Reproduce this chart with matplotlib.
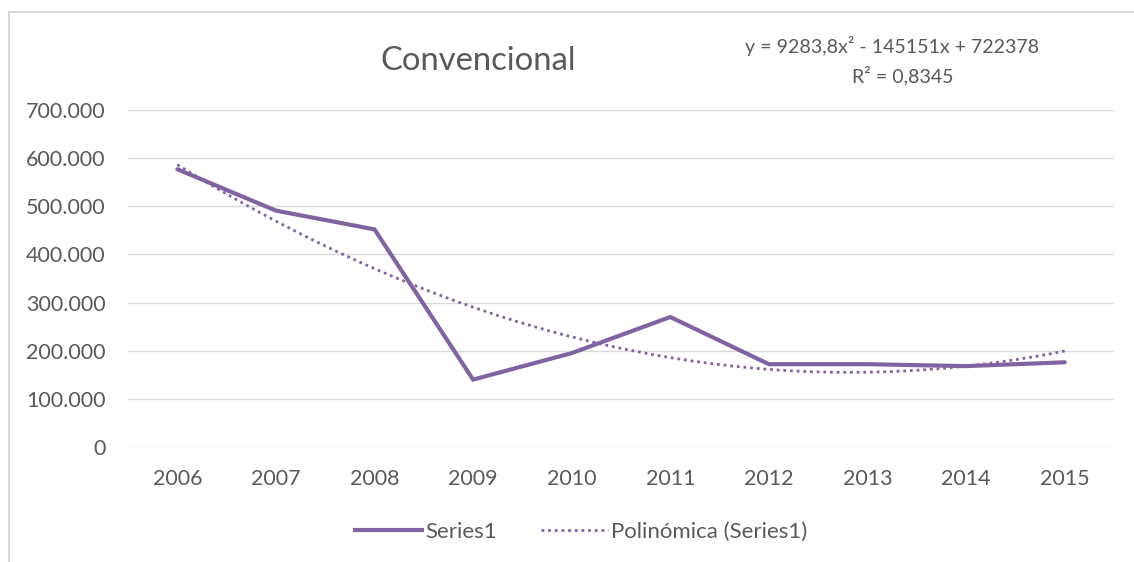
import numpy as np
import matplotlib
matplotlib.use("Agg")
import matplotlib.pyplot as plt
from matplotlib.lines import Line2D

years = ["2006", "2007", "2008", "2009", "2010", "2011", "2012", "2013", "2014", "2015"]
series1 = [577000, 491000, 452000, 140000, 195000, 270000, 172000, 172000, 168000, 176000]
poly_coef = [9283.8, -145151, 722378]   # trendline: y = a x^2 + b x + c (x = 1..10)
y_ticks = [0, 100000, 200000, 300000, 400000, 500000, 600000, 700000]
y_tick_labels = ["0", "100.000", "200.000", "300.000", "400.000", "500.000", "600.000", "700.000"]

PURPLE = "#8064a2"
TEXT = "#595959"
GRID = "#d9d9d9"
FONT = ["Lato", "DejaVu Sans"]
plt.rcParams['font.family'] = FONT

W, H = 1134, 562
fig = plt.figure(figsize=(W / 100, H / 100), dpi=100)
ax = fig.add_axes([128 / W, 1 - 447 / H, (1114 - 128) / W, (447 - 110) / H])

DOT = (0, (1, 1.4))
x = np.arange(1, len(years) + 1)
ax.plot(x, series1, color=PURPLE, lw=3.0, solid_capstyle="round", solid_joinstyle="miter", zorder=3)
xs = np.linspace(1, len(years), 200)
ax.plot(xs, np.polyval(poly_coef, xs), color=PURPLE, lw=2.0, linestyle=DOT, zorder=2)

ax.set_xlim(0.5, len(years) + 0.5)
ax.set_ylim(0, 700000)
ax.set_yticks(y_ticks)
ax.set_yticklabels(y_tick_labels)
ax.set_xticks(x)
ax.set_xticklabels(years)
ax.tick_params(axis="both", length=0, labelsize=15.5, colors=TEXT)
ax.tick_params(axis="y", pad=16)
ax.tick_params(axis="x", pad=16)
ax.grid(axis="y", color=GRID, lw=1.0)
ax.set_axisbelow(True)
for s in ax.spines.values():
    s.set_visible(False)

fig.text(478 / W, 1 - 61 / H, "Convencional", ha="center", va="center", fontsize=23.6, color=TEXT)
fig.text(892 / W, 1 - 46 / H, "y = 9283,8x² - 145151x + 722378", ha="center", va="center",
         fontsize=14.1, color=TEXT)
fig.text(903 / W, 1 - 76 / H, "R² = 0,8345", ha="center", va="center", fontsize=14.1, color=TEXT)

handles = [Line2D([], [], color=PURPLE, lw=3.0),
           Line2D([], [], color=PURPLE, lw=2.0, linestyle=DOT)]
fig.legend(handles, ["Series1", "Polinómica (Series1)"], loc="center",
           bbox_to_anchor=(581 / W, 1 - 532 / H), ncol=2, frameon=False,
           fontsize=16, labelcolor=TEXT, handlelength=3.0, handletextpad=0.15, columnspacing=2.0)

# chart-area border (left and top edges visible)
fig.add_artist(Line2D([8.5 / W, 8.5 / W], [0, 1 - 11.5 / H], transform=fig.transFigure, color=GRID, lw=1.5))
fig.add_artist(Line2D([8.5 / W, 1], [1 - 11.5 / H, 1 - 11.5 / H], transform=fig.transFigure, color=GRID, lw=1.5))

fig.savefig("out.png", dpi=100, facecolor="white")
